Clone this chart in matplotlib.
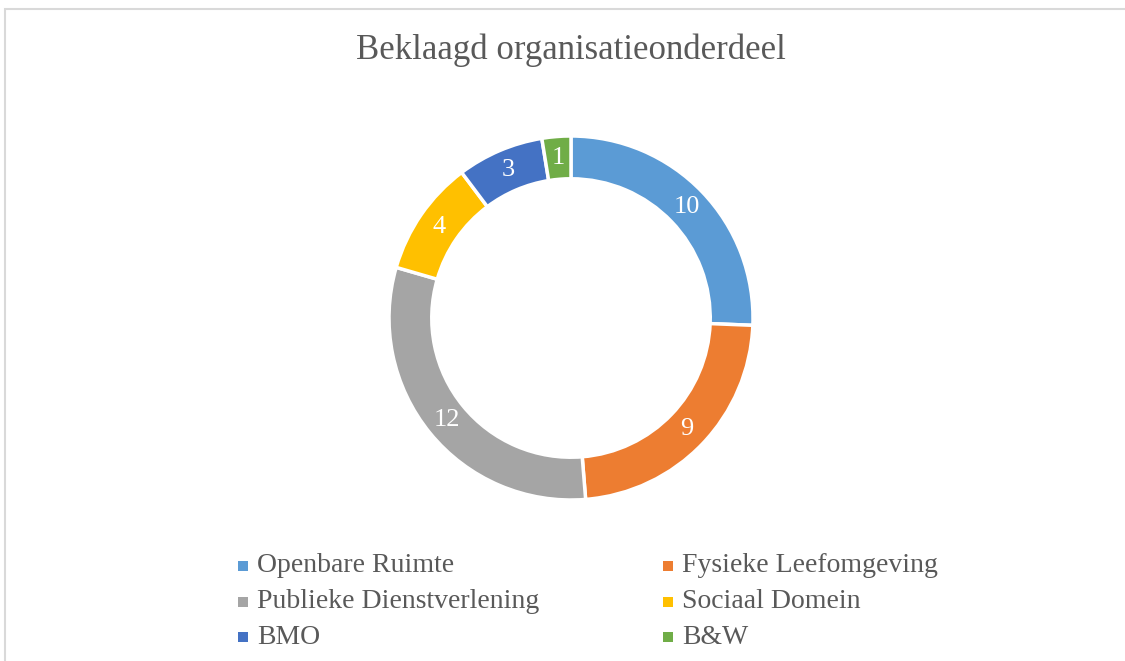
import matplotlib
matplotlib.use("Agg")
import matplotlib.pyplot as plt
from matplotlib.patches import Rectangle
import numpy as np

categories = ["Openbare Ruimte", "Fysieke Leefomgeving", "Publieke Dienstverlening",
              "Sociaal Domein", "BMO", "B&W"]
values = [10, 9, 12, 4, 3, 1]
colors = ["#5B9BD5", "#ED7D31", "#A5A5A5", "#FFC000", "#4472C4", "#70AD47"]
title = "Beklaagd organisatieonderdeel"

W, H = 1125, 661
fig = plt.figure(figsize=(W / 100, H / 100), dpi=100)
plt.rcParams['font.family'] = ['Liberation Serif', 'DejaVu Serif']
text_color = "#595959"

# chart border (top and left visible)
fig.patches.append(Rectangle((4.5 / W, -0.01), 1.05, (H - 9) / H + 0.01,
                             transform=fig.transFigure, fill=False,
                             edgecolor="#D9D9D9", linewidth=1.5))

cx, cy, R = 571, 318, 182
ax = fig.add_axes([(cx - R) / W, (H - cy - R) / H, 2 * R / W, 2 * R / H])
width = 0.235
ax.pie(values, colors=colors, startangle=90, counterclock=False,
       radius=1, wedgeprops=dict(width=width, edgecolor="white", linewidth=2.5))
total = sum(values)
cum = 0
for v in values:
    mid = 90 - (cum + v / 2) / total * 360
    r = 1 - width / 2
    ax.text(r * np.cos(np.radians(mid)), r * np.sin(np.radians(mid)), str(v),
            ha="center", va="center", color="white", fontsize=19)
    cum += v
ax.set_xlim(-1, 1)
ax.set_ylim(-1, 1)
ax.set_aspect("equal")
ax.axis("off")

fig.text(571 / W, 1 - 50 / H, title, ha="center", va="center", fontsize=25, color=text_color)

col_x = [243, 668]
row_y = [566, 602, 637]
sq = 10
for i, (lab, c) in enumerate(zip(categories, colors)):
    x = col_x[i % 2]
    y = row_y[i // 2]
    fig.patches.append(Rectangle(((x - sq / 2) / W, (H - y - sq / 2) / H), sq / W, sq / H,
                                 transform=fig.transFigure, facecolor=c, edgecolor="none"))
    fig.text((x + 14) / W, 1 - y / H, lab, ha="left", va="center", fontsize=20, color=text_color)

fig.savefig("out.png", dpi=100)
